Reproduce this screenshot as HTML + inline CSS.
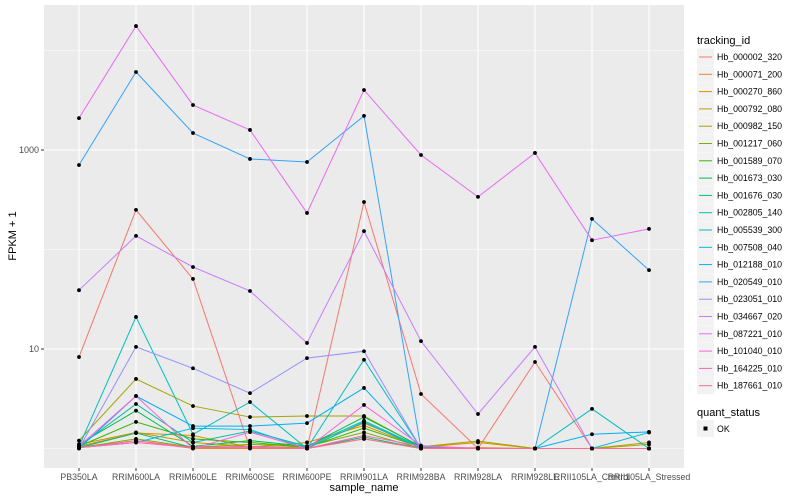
<!DOCTYPE html>
<html><head><meta charset="utf-8"><style>
body{margin:0;background:#fff;}
svg{display:block;font-family:"Liberation Sans",sans-serif;}
</style></head><body>
<svg id="chart" width="800" height="500"></svg>
<script>
const samples=["PB350LA","RRIM600LA","RRIM600LE","RRIM600SE","RRIM600PE","RRIM901LA","RRIM928BA","RRIM928LA","RRIM928LE","RRII105LA_Control","RRII105LA_Stressed"];
const ids=["Hb_000002_320","Hb_000071_200","Hb_000270_860","Hb_000792_080","Hb_000982_150","Hb_001217_060","Hb_001589_070","Hb_001673_030","Hb_001676_030","Hb_002805_140","Hb_005539_300","Hb_007508_040","Hb_012188_010","Hb_020549_010","Hb_023051_010","Hb_034667_020","Hb_087221_010","Hb_101040_010","Hb_164225_010","Hb_187661_010"];
const colors=["#F8766D","#EA8331","#D89000","#C09B00","#A3A500","#7CAE00","#39B600","#00BB4E","#00BF7D","#00C1A3","#00BFC4","#00BAE0","#00B0F6","#35A2FF","#9590FF","#C77CFF","#E76BF3","#FA62DB","#FF62BC","#FF6C91"];
const s0=[8.3,250,50.6,1,1,300,3.53,1,7.4,1,1];
const s1=[1.02,1.2,1,1,1,1.25,1,1.02,1,1,1];
const s2=[1.05,1.43,1.35,1.03,1.15,1.7,1.03,1.15,1,1,1];
const s3=[1.1,1.45,1.15,1.05,1.03,1.8,1.05,1,1,1,1.15];
const s4=[1.2,5.0,2.67,2.07,2.12,2.12,1.04,1.19,1,1,1.1];
const s5=[1.02,1.25,1.03,1.1,1.05,1.45,1,1,1,1,1];
const s6=[1.05,1.85,1.25,1.15,1.03,1.6,1.03,1,1,1,1];
const s7=[1.1,2.4,1.05,1.2,1.05,2.07,1.05,1,1,1,1];
const s8=[1.02,1.43,1.02,1.05,1,1.3,1,1,1,1,1];
const s9=[1.05,2.8,1.15,1.5,1.05,1.9,1.03,1,1,1,1];
const s10=[1.05,21,1.39,2.93,1,7.8,1,1,1,2.5,1];
const s11=[1.02,1.15,1.6,1.55,1,1.85,1,1,1,1,1.45];
const s12=[1,3.37,1.68,1.68,1.8,4.06,1,1,1,1.39,1.47];
const s13=[706,6080,1480,813,757,2200,1,1,1,203,62];
const s14=[1,10.5,6.4,3.6,8.1,9.5,1,1,1,1,1];
const s15=[39,137,66.7,38.3,11.5,153,12,2.22,10.5,1,1];
const s16=[2090,17600,2830,1590,233,4010,891,338,934,124,161];
const s17=[1.05,3.37,1,1.46,1,2.74,1.07,1,1,1,1];
const s18=[1.02,1.15,1.02,1.05,1,1.35,1.05,1,1,1,1];
const s19=[1.02,1.2,1.02,1.02,1,1.25,1,1,1,1,1];
const series=[s0,s1,s2,s3,s4,s5,s6,s7,s8,s9,s10,s11,s12,s13,s14,s15,s16,s17,s18,s19];
const yTicks=[10,1000];
const yMinor=[1,100,10000];

const NS="http://www.w3.org/2000/svg";
const svg=document.getElementById("chart");
function el(t,a,p){const e=document.createElementNS(NS,t);for(const k in a)e.setAttribute(k,a[k]);(p||svg).appendChild(e);return e;}
const PL=44,PR=684,PT=5,PB=468;
const xS=i=>79+i*57;
const yS=v=>349-(Math.log10(v)-1)*99.5;

const panel=el("rect",{x:PL,y:PT,width:PR-PL,height:PB-PT,fill:"#EBEBEB"});


yMinor.forEach(v=>{const l=el("line",{x1:PL,x2:PR,y1:yS(v),y2:yS(v),stroke:"#fff","stroke-width":0.5});

});
yTicks.forEach(v=>{const l=el("line",{x1:PL,x2:PR,y1:yS(v),y2:yS(v),stroke:"#fff","stroke-width":1.1});


const tk=el("line",{x1:PL-3,x2:PL,y1:yS(v),y2:yS(v),stroke:"#333"});


const t=el("text",{x:PL-5,y:yS(v)+3,"text-anchor":"end","font-size":"9",fill:"#4D4D4D"});t.textContent=v;

});
samples.forEach((s,i)=>{const l=el("line",{x1:xS(i),x2:xS(i),y1:PT,y2:PB,stroke:"#fff","stroke-width":1.1});


const tk=el("line",{x1:xS(i),x2:xS(i),y1:PB,y2:PB+3,stroke:"#333"});


const t=el("text",{x:xS(i),y:PB+12,"text-anchor":"middle","font-size":"8.8",fill:"#4D4D4D"});t.textContent=s;

});
series.forEach((d,k)=>{const p=el("polyline",{points:d.map((v,i)=>xS(i)+","+yS(v)).join(" "),fill:"none",stroke:colors[k],"stroke-width":1});

});
series.forEach((d,k)=>d.forEach((v,i)=>{const c=el("circle",{cx:xS(i),cy:yS(v),r:1.9,fill:"#000"});

}));

const xt=el("text",{x:(PL+PR)/2,y:491,"text-anchor":"middle","font-size":"11",fill:"#000"});xt.textContent="sample_name";


const yt=el("text",{x:0,y:0,transform:"translate(16,236) rotate(-90)","text-anchor":"middle","font-size":"11",fill:"#000"});yt.textContent="FPKM + 1";



const lt=el("text",{x:697,y:44,"font-size":"11",fill:"#000"});lt.textContent="tracking_id";


ids.forEach((id,k)=>{const y=57+k*17.3;
const g=el("g",{});


el("rect",{x:697,y:y-8.5,width:17,height:17,fill:"#F2F2F2"},g);
el("line",{x1:699,x2:712,y1:y,y2:y,stroke:colors[k],"stroke-width":1},g);
const t=el("text",{x:717,y:y+3,"font-size":"8.8",fill:"#000"},g);t.textContent=id;});
const qt=el("text",{x:697,y:416,"font-size":"11",fill:"#000"});qt.textContent="quant_status";


const g2=el("g",{});


el("rect",{x:697,y:420,width:17,height:17,fill:"#F2F2F2"},g2);
el("rect",{x:703.5,y:426.5,width:4,height:4,fill:"#000"},g2);
const ok=el("text",{x:717,y:432,"font-size":"8.8",fill:"#000"},g2);ok.textContent="OK";
</script>
</body></html>
